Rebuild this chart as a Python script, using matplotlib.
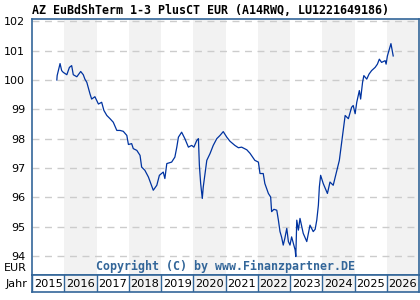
import matplotlib
matplotlib.use('Agg')
import matplotlib.pyplot as plt

# ---------------------------------------------------------------------------
# Daten (aus dem Chart abgelesen)
# ---------------------------------------------------------------------------
title = 'AZ EuBdShTerm 1-3 PlusCT EUR (A14RWQ, LU1221649186)'
years = list(range(2015, 2027))
y_ticks = [94, 95, 96, 97, 98, 99, 100, 101, 102]

dates = [2015.77, 2015.78, 2015.87, 2015.92, 2015.97, 2016.08, 2016.16, 2016.23,
         2016.28, 2016.39, 2016.51, 2016.59, 2016.64, 2016.70, 2016.80, 2016.85,
         2016.95, 2017.06, 2017.16, 2017.23, 2017.32, 2017.42, 2017.52, 2017.63,
         2017.73, 2017.83, 2017.94, 2017.99, 2018.09, 2018.14, 2018.25, 2018.35,
         2018.40, 2018.50, 2018.61, 2018.76, 2018.87, 2018.95, 2019.07, 2019.12,
         2019.18, 2019.33, 2019.43, 2019.49, 2019.54, 2019.64, 2019.74, 2019.85,
         2019.95, 2020.02, 2020.11, 2020.16, 2020.19, 2020.23, 2020.28, 2020.31,
         2020.42, 2020.52, 2020.62, 2020.73, 2020.83, 2020.93, 2021.04, 2021.14,
         2021.29, 2021.40, 2021.50, 2021.66, 2021.76, 2021.91, 2022.02, 2022.07,
         2022.17, 2022.22, 2022.33, 2022.40, 2022.43, 2022.50, 2022.59, 2022.64,
         2022.69, 2022.74, 2022.79, 2022.84, 2022.90, 2022.95, 2023.00, 2023.05,
         2023.16, 2023.18, 2023.21, 2023.26, 2023.31, 2023.41, 2023.52, 2023.62,
         2023.72, 2023.78, 2023.83, 2023.88, 2023.91, 2023.95, 2024.03, 2024.16,
         2024.24, 2024.34, 2024.43, 2024.53, 2024.57, 2024.71, 2024.81, 2024.91,
         2024.96, 2025.02, 2025.07, 2025.15, 2025.19, 2025.25, 2025.29, 2025.38,
         2025.45, 2025.53, 2025.64, 2025.71, 2025.77, 2025.84, 2025.95, 2025.98,
         2026.02, 2026.08, 2026.13, 2026.17, 2026.20]

prices = [100.00, 100.15, 100.56, 100.32, 100.26, 100.18, 100.43, 100.49,
          100.18, 100.11, 100.29, 100.18, 100.03, 99.92, 99.52, 99.35,
          99.43, 99.18, 99.24, 98.96, 98.79, 98.68, 98.56, 98.28,
          98.28, 98.25, 98.11, 97.80, 97.83, 97.66, 97.60, 97.43,
          97.03, 96.92, 96.69, 96.24, 96.41, 96.75, 96.86, 96.64,
          97.15, 97.20, 97.37, 97.71, 98.05, 98.22, 98.00, 97.71,
          97.77, 97.71, 97.94, 98.00, 97.09, 96.47, 95.96, 96.35,
          97.26, 97.49, 97.77, 98.00, 98.11, 98.24, 98.05, 97.91,
          97.77, 97.69, 97.71, 97.62, 97.50, 97.26, 97.20, 96.81,
          96.81, 96.47, 96.13, 96.01, 95.51, 95.59, 95.56, 95.22,
          94.83, 94.64, 94.37, 94.60, 94.94, 94.49, 94.37, 94.65,
          94.20, 93.98, 95.22, 94.88, 95.28, 94.77, 94.49, 95.05,
          94.83, 94.91, 95.22, 95.73, 96.35, 96.75, 96.47, 96.13,
          96.52, 96.41, 96.81, 97.26, 97.60, 98.79, 98.68, 99.07,
          99.13, 98.85, 99.24, 99.64, 99.35, 99.92, 100.15, 100.03,
          100.20, 100.32, 100.43, 100.54, 100.71, 100.60, 100.66, 100.54,
          100.82, 101.05, 101.24, 100.99, 100.82]

# ---------------------------------------------------------------------------
# Farben
# ---------------------------------------------------------------------------
BORDER = '#336699'
LINE = '#0033a0'
BAND = '#f2f2f2'
GRID = '#cccccc'

fig = plt.figure(figsize=(4.2, 3.0), dpi=100)
fig.patch.set_facecolor('white')

W, H = 420.0, 300.0
left, right = 32 / W, 419 / W
ax = fig.add_axes([left, (H - 275) / H, right - left, (275 - 19) / H])

# abwechselnde Jahresbänder
for y in years:
    if (y - 2015) % 2 == 1:
        ax.axvspan(y, y + 1, color=BAND, lw=0, zorder=0)

for t in y_ticks:
    ax.axhline(t, color=GRID, lw=1.0, ls=(0, (5, 4)), zorder=1)

ax.plot(dates, prices, color=LINE, lw=0.9, zorder=3)

ax.set_xlim(2015, 2027)
ax.set_ylim(93.35, 102.08)
ax.set_xticks([])
ax.set_yticks(y_ticks)
ax.set_yticklabels([str(t) for t in y_ticks], fontsize=8, family='DejaVu Sans')
ax.tick_params(axis='y', length=0, pad=5)
for s in ax.spines.values():
    s.set_color(BORDER)
    s.set_linewidth(1.2)

ax.text(0.5, 0.035, 'Copyright (C) by www.Finanzpartner.DE', transform=ax.transAxes,
        ha='center', va='center', fontsize=8.4, fontweight='bold',
        family='DejaVu Sans Mono', color=BORDER, zorder=4)

# Jahreszeile
axy = fig.add_axes([left, (H - 292) / H, right - left, 17 / H])
axy.set_xlim(2015, 2027)
axy.set_ylim(0, 1)
for y in years:
    fc = BAND if (y - 2015) % 2 == 1 else 'white'
    axy.axvspan(y, y + 1, color=fc, lw=0)
    axy.axvline(y, color=BORDER, lw=1.0)
    axy.text(y + 0.5, 0.47, str(y), ha='center', va='center', fontsize=8.2,
             family='DejaVu Sans')
axy.set_xticks([])
axy.set_yticks([])
for s in axy.spines.values():
    s.set_color(BORDER)
    s.set_linewidth(1.2)

fig.text(27 / W, 1 - 268 / H, 'EUR', ha='right', va='center', fontsize=8)
fig.text(27 / W, 1 - 284 / H, 'Jahr', ha='right', va='center', fontsize=8)
fig.text(32 / W, 1 - 10 / H, title, ha='left', va='center', fontsize=8.35,
         fontweight='bold', family='DejaVu Sans Mono')

fig.savefig('out.png', dpi=100)
